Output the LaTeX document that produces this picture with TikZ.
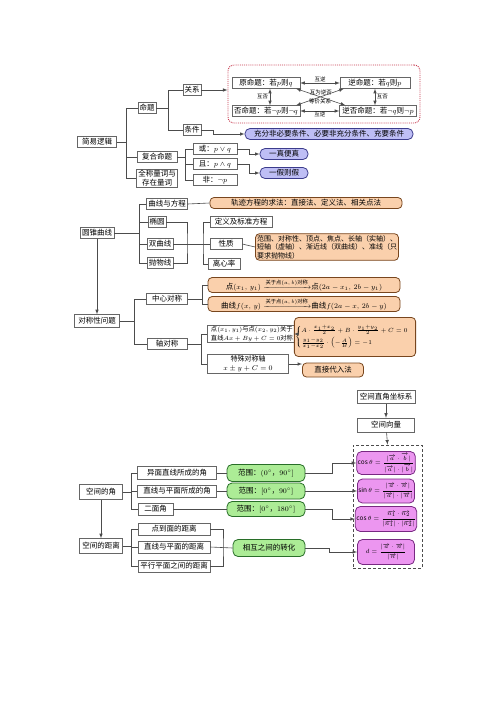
\documentclass[tikz,border=0pt]{standalone}
\usepackage{amsmath}
\usepackage{amssymb}
\usepackage{fontspec}
\setmainfont{Noto Sans CJK SC}
\definecolor{ofill}{RGB}{250,208,172}
\definecolor{obord}{RGB}{120,70,30}
\definecolor{gfill}{RGB}{172,236,150}
\definecolor{gbord}{RGB}{40,110,40}
\definecolor{pfill}{RGB}{236,150,240}
\definecolor{pbord}{RGB}{120,40,130}
\definecolor{lfill}{RGB}{190,190,245}
\definecolor{lbord}{RGB}{60,60,140}
\definecolor{rdot}{RGB}{200,60,80}

\begin{document}
\begin{tikzpicture}[
x=1pt, y=-1pt,
box/.style={
  draw=black!60,
  fill=white,
  inner sep=1.5pt,
  minimum height=11pt,
  font=\fontsize{7.5}{9}\selectfont
  },
obox/.style={box, draw=obord, fill=ofill, rounded corners=4pt, line width=0.8pt},
gbox/.style={box, draw=gbord, fill=gfill, rounded corners=5pt, line width=0.8pt},
pbox/.style={box, draw=pbord, fill=pfill, rounded corners=5pt, line width=0.8pt,
  minimum width=57pt, inner sep=1pt, font=\fontsize{6.5}{7.5}\selectfont},
lbox/.style={box, draw=lbord, fill=lfill, rounded corners=5pt, line width=0.8pt},
tag/.style={font=\fontsize{5.5}{6}\selectfont, inner sep=0.5pt},
line/.style={draw=black!70, line width=0.6pt},
every path/.append style={>=latex}
]
\fill[white] (0,0) rectangle (500,707);
\useasboundingbox (0,0) rectangle (500,707);

% 简易逻辑
\node[box, minimum width=39pt] (jylj) at (97,142) {简易逻辑};
\node[box] (mt) at (147,108) {命题};
\node[box] (gx) at (192,90) {关系};
\node[box] (tj) at (192,130) {条件};
\node[box, minimum width=40pt] (fhmt) at (157,157) {复合命题};
\node[box, minimum width=41pt, align=center, font=\fontsize{7.5}{8.5}\selectfont] (ql) at (157,178) {全称量词与\\存在量词};
\node[box, minimum width=44pt] (huo) at (215,149) {或：$p\vee q$};
\node[box, minimum width=44pt] (qie) at (215,164) {且：$p\wedge q$};
\node[box, minimum width=44pt] (fei) at (215,180) {非：$\neg p$};
\node[draw=rdot, densely dotted, line width=0.9pt, rounded corners=6pt,
  minimum width=192pt, minimum height=58pt] (rk) at (324,94) {};
\node[box, minimum width=68pt] (yuan) at (266,83) {原命题：若$p$则$q$};
\node[box, minimum width=70pt] (ni) at (375,83) {逆命题：若$q$则$p$};
\node[box, minimum width=68pt] (fou) at (266,111) {否命题：若$\neg p$则$\neg q$};
\node[box, minimum width=77pt] (nf) at (378,111) {逆否命题：若$\neg q$则$\neg p$};
\node[lbox, minimum width=168pt] (cond) at (329,134) {充分非必要条件、必要非充分条件、充要条件};
\node[lbox, minimum width=48pt] (yz) at (284,154) {一真便真};
\node[lbox, minimum width=48pt] (yj) at (284,173) {一假则假};

\draw[line] (jylj.east) -- ++(10,0) coordinate (k1);
\draw[line] (mt.west) -| (k1) |- (ql.west);
\draw[line] (k1 |- fhmt.west) -- (fhmt.west);
\draw[line] (mt.east) -- ++(12,0) coordinate (k2);
\draw[line] (gx.west) -| (k2) |- (tj.west);
\draw[line,->] (gx.east) -- (gx.east -| rk.west);
\draw[line,->] (tj.east) -- ++(12,0) |- (cond.west);
\draw[line] (fhmt.east) -- ++(8,0) coordinate (k3);
\draw[line] (huo.west) -| (k3) |- (fei.west);
\draw[line] (k3 |- qie.west) -- (qie.west);
\draw[line,->] (huo.east) -- ++(12,0) |- (yz.west);
\draw[line,->] (qie.east) -- ++(12,0) |- (yj.west);
\draw[line,<->] (yuan.east) -- node[tag, above] {互逆} (ni.west);
\draw[line,<->] (fou.east) -- node[tag, below] {互逆} (nf.west);
\draw[line,<->] ([xshift=4pt]yuan.south) -- node[tag, left=1pt] {互否} ([xshift=4pt]fou.north);
\draw[line,<->] (ni.south) -- node[tag, right=1pt] {互否} (ni.south |- nf.north);
\draw[line,<->] ([xshift=-4pt]yuan.south east) -- node[tag, above=1pt] {互为逆否} ([xshift=6pt]nf.north west);
\draw[line,<->] ([xshift=4pt]ni.south west) -- node[tag, below=1pt] {等价关系} ([xshift=-4pt]fou.north east);

% 圆锥曲线
\node[box, minimum width=34pt] (yzqx) at (97,233) {圆锥曲线};
\node[box, minimum width=41pt] (qxfc) at (167,204) {曲线与方程};
\node[box] (ty) at (157,222) {椭圆};
\node[box, minimum width=26pt] (sqx) at (160,244) {双曲线};
\node[box, minimum width=26pt] (pwx) at (160,263) {抛物线};
\node[box, minimum width=62pt] (dy) at (241,222) {定义及标准方程};
\node[box, minimum width=32pt] (xz) at (226,244) {性质};
\node[box, minimum width=32pt] (lxl) at (224,264) {离心率};
\node[obox, minimum width=192pt] (gj) at (306,203) {轨迹方程的求法：直接法、定义法、相关点法};
\node[obox, align=left, font=\fontsize{7}{8.5}\selectfont] (xzo) at (327,247)
  {范围、对称性、顶点、焦点、长轴（实轴）、\\短轴（虚轴）、渐近线（双曲线）、准线（只\\要求抛物线）};

\draw[line] (yzqx.east) -- ++(25,0) coordinate (k4);
\draw[line] (qxfc.west) -| (k4) |- (pwx.west);
\draw[line] (k4 |- ty.west) -- (ty.west);
\draw[line] (k4 |- sqx.west) -- (sqx.west);
\draw[line] (qxfc.east) -- (gj.west);
\coordinate (k5) at (187,244);
\coordinate (k6) at (203,244);
\draw[line] (ty.east) -| (k5) |- (pwx.east);
\draw[line] (sqx.east) -- (xz.west);
\draw[line] (dy.west) -| (k6) |- (lxl.west);
\draw[line] (xz.east) -- (xzo.west);

% 对称性问题
\node[box, minimum width=45pt, minimum height=13pt] (dcx) at (97,321) {对称性问题};
\node[box, minimum width=41pt] (zxdc) at (167,299) {中心对称};
\node[box, minimum width=40pt] (zdc) at (167,344) {轴对称};
\node[obox, minimum width=192pt] (o1) at (304,285)
  {点$(x_1,\,y_1)\xrightarrow{\text{关于点}(a,\,b)\text{对称}}$点$(2a-x_1,\,2b-y_1)$};
\node[obox, minimum width=192pt] (o2) at (304,304)
  {曲线$f(x,\,y)\xrightarrow{\text{关于点}(a,\,b)\text{对称}}$曲线$f(2a-x,\,2b-y)$};
\node[box, minimum width=90pt, align=left, inner sep=1pt, font=\fontsize{6.3}{8.5}\selectfont] (w1) at (252,334)
  {点$(x_1,y_1)$与点$(x_2,y_2)$关于\\直线$Ax+By+C=0$对称};
\node[box, minimum width=81pt, align=center, font=\fontsize{7}{9}\selectfont] (w2) at (248,364)
  {特殊对称轴\\$x\pm y+C=0$};
\node[obox, minimum width=96pt, minimum height=39pt, inner sep=1pt, font=\fontsize{6}{7}\selectfont] (oeq) at (355,337)
  {$\begin{cases}A\cdot\frac{x_1+x_2}{2}+B\cdot\frac{y_1+y_2}{2}+C=0\\[3pt]
  \frac{y_1-y_2}{x_1-x_2}\cdot\left(-\frac{A}{B}\right)=-1\end{cases}$};
\node[obox, minimum width=61pt, minimum height=14pt] (zjdr) at (333,370) {直接代入法};

\draw[line,->] (yzqx.south) -- (dcx.north);
\draw[line] (dcx.east) -- ++(15,0) coordinate (k7);
\draw[line] (zxdc.west) -| (k7) |- (zdc.west);
\draw[line] (zxdc.east) -- ++(15,0) coordinate (k8);
\draw[line] (o1.west) -| (k8) |- (o2.west);
\draw[line] (zdc.east) -- ++(14,0) coordinate (k9);
\draw[line] (w1.west) -| (k9) |- (w2.west);
\draw[line,->] (w1.east) -- (w1.east -| oeq.west);
\draw[line,->] (w2.east) -- (w2.east -| zjdr.west);

% 空间向量
\node[box, minimum width=58pt, minimum height=13pt] (zjzb) at (386,397) {空间直角坐标系};
\node[box, minimum width=57pt, minimum height=14pt] (kjxl) at (386,425) {空间向量};
\node[draw=black!70, densely dashed, line width=0.7pt, minimum width=69pt, minimum height=123pt] (vk) at (387.5,506.5) {};
\node[pbox, minimum height=23pt] (p1) at (386,463)
  {$\cos\theta=\dfrac{|\overrightarrow{a}\cdot\overrightarrow{b}|}{|\overrightarrow{a}|\cdot|\overrightarrow{b}|}$};
\node[pbox, minimum height=24pt] (p2) at (386,491)
  {$\sin\theta=\dfrac{|\overrightarrow{a}\cdot\overrightarrow{n}|}{|\overrightarrow{a}|\cdot|\overrightarrow{n}|}$};
\node[pbox, minimum height=25pt] (p3) at (386,519)
  {$\cos\theta=\dfrac{\overrightarrow{n_1}\cdot\overrightarrow{n_2}}{|\overrightarrow{n_1}|\cdot|\overrightarrow{n_2}|}$};
\node[pbox, minimum height=25pt] (p4) at (386,552)
  {$d=\dfrac{|\overrightarrow{a}\cdot\overrightarrow{n}|}{|\overrightarrow{n}|}$};

\node[box, minimum width=43pt, minimum height=15pt] (kjj) at (101,492) {空间的角};
\node[box, minimum width=43pt, minimum height=15pt] (kjjl) at (101,546) {空间的距离};
\node[box, minimum width=79pt, minimum height=13pt] (a1) at (177,473) {异面直线所成的角};
\node[box, minimum width=79pt, minimum height=12pt] (a2) at (177,491) {直线与平面所成的角};
\node[box, minimum width=35pt, minimum height=12pt] (a3) at (155.5,509) {二面角};
\node[box, minimum width=72pt, minimum height=12pt] (d1) at (174,529) {点到面的距离};
\node[box, minimum width=72pt, minimum height=12pt] (d2) at (174,547) {直线与平面的距离};
\node[box, minimum width=72pt, minimum height=12pt] (d3) at (174,566) {平行平面之间的距离};
\node[gbox, minimum width=78pt, minimum height=17pt] (g1) at (266,473) {范围：$(0^\circ$，$90^\circ]$};
\node[gbox, minimum width=78pt, minimum height=16pt] (g2) at (266,491) {范围：$[0^\circ$，$90^\circ]$};
\node[gbox, minimum width=78pt, minimum height=15pt] (g3) at (266,509) {范围：$[0^\circ$，$180^\circ]$};
\node[gbox, minimum width=72pt, minimum height=17pt] (g4) at (269,548) {相互之间的转化};

\draw[line,->] (zjzb) -- (kjxl);
\draw[line,->] (kjxl) -- (vk.north);
\draw[line,->] (kjj) -- (kjjl);
\draw[line] (kjj.east) -- ++(9,0) coordinate (k10);
\draw[line] (a1.west) -| (k10) |- (a3.west);
\draw[line] (k10 |- a2.west) -- (a2.west);
\draw[line] (kjjl.east) -- ++(9,0) coordinate (k11);
\draw[line] (d1.west) -| (k11) |- (d3.west);
\draw[line] (k11 |- d2.west) -- (d2.west);
\coordinate (k12) at (223,547);
\draw[line] (d1.east) -| (k12) |- (d3.east);
\draw[line] (d2.east) -- (g4.west);
\draw[line] (a1.east) -- (g1.west);
\draw[line] (a2.east) -- (g2.west);
\draw[line] (a3.east) -- (g3.west);
\draw[line,->] (g1.east) -- ++(27,0) |- (p1.west);
\draw[line,->] (g2.east) -- (g2.east -| p2.west);
\draw[line,->] (g3.east) -- ++(27,0) |- (p3.west);
\draw[line,->] (g4.east) -- ++(24,0) |- (p4.west);
\end{tikzpicture}
\end{document}
